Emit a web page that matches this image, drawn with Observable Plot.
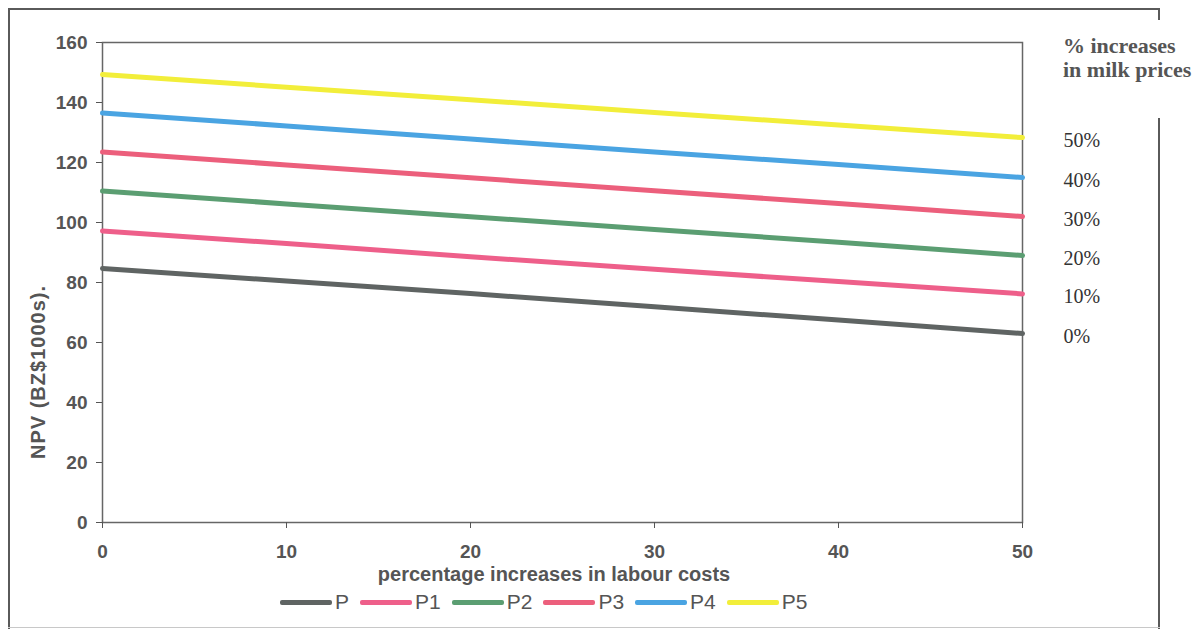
<!DOCTYPE html>
<html>
<head>
<meta charset="utf-8">
<script src="https://cdn.jsdelivr.net/npm/d3@7"></script>
<script src="https://cdn.jsdelivr.net/npm/@observablehq/plot@0.6"></script>
<style>
  html, body { margin: 0; padding: 0; background: #fff; }
  #wrap { position: relative; width: 1193px; height: 629px; overflow: hidden; font-family: "Liberation Sans", Arial, sans-serif; }
  #wrap svg { position: absolute; left: 0; top: 0; }
  .rule { position: absolute; background: #5a5a5a; }
  .ytitle { position: absolute; left: 38px; top: 372px; transform: translate(-50%, -50%) rotate(-90deg); font-weight: bold; font-size: 20px; letter-spacing: 1px; color: #555; white-space: nowrap; }
  .xtitle { position: absolute; left: 554px; top: 574px; transform: translate(-50%, -50%); font-weight: bold; font-size: 20px; color: #555; white-space: nowrap; }
  .heading { position: absolute; left: 1063px; top: 34px; font-family: "Liberation Serif", "Times New Roman", serif; font-weight: bold; font-size: 22px; line-height: 24px; color: #555; white-space: nowrap; }
  #legend { position: absolute; left: 280px; top: 590px; display: flex; align-items: center; gap: 11px; font-size: 21px; color: #555; }
  #legend .item { display: flex; align-items: center; }
  #legend .swatch { width: 52px; height: 5px; margin-right: 3px; border-radius: 2px; }
</style>
</head>
<body>
<div id="wrap">
  <div class="rule" style="left:8px; top:8px; width:1152px; height:1.5px;"></div>
  <div class="rule" style="left:8px; top:8px; width:1.5px; height:621px;"></div>
  <div class="rule" style="left:1158px; top:8px; width:1.5px; height:12px;"></div>
  <div class="rule" style="left:1158px; top:118px; width:1.5px; height:511px;"></div>
  <div class="rule" style="left:8px; top:627px; width:1152px; height:1px; background:#c8c8c8;"></div>
  <div class="ytitle">NPV (BZ$1000s).</div>
  <div class="xtitle">percentage increases in labour costs</div>
  <div class="heading">% increases<br>in milk prices</div>
  <div id="legend"></div>
</div>
<script>
// Percentage increase in labour costs (x axis)
const labourIncrease = [0, 10, 20, 30, 40, 50];

// Milk price scenarios
const seriesNames = ["P", "P1", "P2", "P3", "P4", "P5"];
const milkIncrease = ["0%", "10%", "20%", "30%", "40%", "50%"];
const seriesColors = ["#5f6463", "#ee5f8a", "#5b9e72", "#ec5f7c", "#4aa4e2", "#f2ee3a"];

// NPV (BZ$1000s) for each scenario at each labour cost increase
const npvP  = [84.7, 80.5, 76.3, 71.9, 67.5, 63.0];
const npvP1 = [97.2, 93.0, 88.6, 84.4, 80.3, 76.2];
const npvP2 = [110.5, 106.2, 101.9, 97.7, 93.4, 89.0];
const npvP3 = [123.5, 119.2, 114.9, 110.6, 106.3, 102.0];
const npvP4 = [136.5, 132.2, 127.8, 123.5, 119.3, 115.0];
const npvP5 = [149.3, 145.1, 140.9, 136.7, 132.5, 128.3];

// Axis ticks
const xTicks = [0, 10, 20, 30, 40, 50];
const yTicks = [0, 20, 40, 60, 80, 100, 120, 140, 160];

const allSeries = [npvP, npvP1, npvP2, npvP3, npvP4, npvP5];
const rows = allSeries.flatMap((vals, i) =>
  vals.map((v, j) => ({series: seriesNames[i], labour: labourIncrease[j], npv: v}))
);
const ends = allSeries.map((vals, i) => ({
  series: seriesNames[i],
  labour: labourIncrease[labourIncrease.length - 1],
  npv: vals[vals.length - 1],
  label: milkIncrease[i]
}));

const axisStyle = {fontSize: 19, fontWeight: "bold", fill: "#555"};

const chart = Plot.plot({
  width: 1193,
  height: 629,
  marginLeft: 102,
  marginRight: 171,
  marginTop: 42,
  marginBottom: 107,
  style: {background: "transparent", fontFamily: "'Liberation Sans', Arial, sans-serif", overflow: "visible"},
  x: {domain: [0, 50]},
  y: {domain: [0, 160]},
  color: {domain: seriesNames, range: seriesColors},
  marks: [
    Plot.frame({stroke: "#666", strokeWidth: 1.5}),
    Plot.axisY({ticks: yTicks, tickSize: 6, tickPadding: 9, label: null, stroke: "#555", ...axisStyle}),
    Plot.axisX({ticks: xTicks, tickSize: 6, tickPadding: 16, label: null, stroke: "#555", ...axisStyle}),
    Plot.line(rows, {x: "labour", y: "npv", z: "series", stroke: "series", strokeWidth: 5}),
    Plot.text(ends, {
      x: "labour", y: "npv", text: "label", dx: 41, dy: 3, textAnchor: "start",
      fontFamily: "'Liberation Serif', 'Times New Roman', serif", fontSize: 20, fill: "#333"
    })
  ]
});
document.getElementById("wrap").prepend(chart);

// Legend below the chart
const legend = d3.select("#legend");
seriesNames.forEach((name, i) => {
  const item = legend.append("div").attr("class", "item");
  item.append("div").attr("class", "swatch").style("background", seriesColors[i]);
  item.append("span").text(name);
});
</script>
</body>
</html>
